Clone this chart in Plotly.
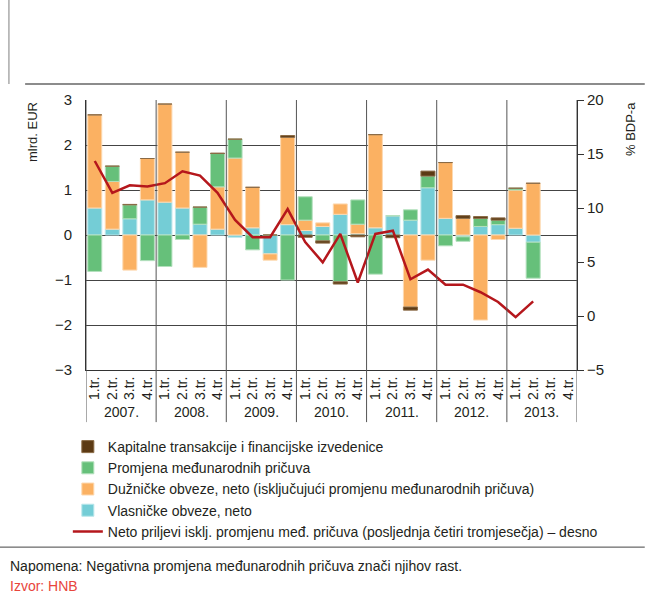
import plotly.graph_objects as go

# kvartali 2007-2013
godine = ['2007.', '2008.', '2009.', '2010.', '2011.', '2012.', '2013.']
kvartali = ['1.tr.', '2.tr.', '3.tr.', '4.tr.']

# mlrd. EUR
vlasnicke = [0.60, 0.13, 0.36, 0.78, 0.73, 0.60, 0.24, 0.13,
             -0.05, 0.16, -0.42, 0.23, 0.10, 0.19, 0.46, 0.03,
             0.16, 0.43, 0.33, 1.05, 0.37, -0.04, 0.19, 0.23,
             0.15, -0.16, None, None]
duznicke = [2.07, 1.06, -0.78, 0.92, 2.18, 1.24, -0.72, 0.94,
            1.71, 0.90, -0.14, 1.94, 0.23, 0.08, 0.23, 0.21,
            2.07, 0.0, -1.60, -0.56, 1.24, 0.37, -1.89, -0.10,
            0.85, 1.15, None, None]
pricuve = [-0.81, 0.34, 0.31, -0.57, -0.70, -0.10, 0.38, 0.74,
           0.42, -0.33, 0.0, -1.00, 0.52, -0.13, -1.04, 0.54,
           -0.87, 0.0, 0.23, 0.26, -0.24, -0.10, 0.18, 0.10,
           0.04, -0.80, None, None]
kapitalne = [0.0, 0.0, 0.01, 0.0, 0.0, 0.0, 0.0, 0.01,
             0.0, 0.0, 0.0, 0.04, -0.05, -0.05, -0.05, -0.04,
             0.0, -0.06, -0.07, 0.11, 0.0, 0.06, 0.04, 0.05,
             0.0, 0.0, None, None]
# % BDP-a, desna os
neto_priljevi = [14.35, 11.4, 12.1, 12.0, 12.3, 13.4, 13.0, 11.4,
                 8.9, 7.3, 7.3, 9.9, 6.85, 4.97, 7.6, 3.1,
                 7.6, 7.9, 3.4, 4.3, 2.9, 2.9, 2.2, 1.3,
                 -0.1, 1.35, None, None]

x = list(range(len(godine) * 4))
ticktext = kvartali * len(godine)

FONT = 'Liberation Sans Narrow, Arial Narrow, Liberation Sans, sans-serif'
TXT = '#231f20'

fig = go.Figure()

# redoslijed slaganja: vlasnicke, duznicke, pricuve, kapitalne
serije = [
    ('Vlasničke obveze, neto', vlasnicke, '#74cdd6', '#b9e6ea', 4),
    ('Dužničke obveze, neto (isključujući promjenu međunarodnih pričuva)', duznicke, '#fbb162', '#fdd9b1', 3),
    ('Promjena međunarodnih pričuva', pricuve, '#66c07a', '#b3e0bd', 2),
    ('Kapitalne transakcije i financijske izvedenice', kapitalne, '#5c3a14', '#8a6a45', 1),
]
for name, vals, col, edge, rank in serije:
    fig.add_trace(go.Bar(x=x, y=vals, name=name, marker_color=col,
                         marker_line=dict(color=edge, width=1), legendrank=rank))

fig.add_trace(go.Scatter(x=x, y=neto_priljevi, yaxis='y2', mode='lines',
                         name='Neto priljevi isklj. promjenu međ. pričuva (posljednja četiri tromjesečja) – desno',
                         line=dict(color='#b5171c', width=2.5), legendrank=5))

# okomite linije izmedju godina (i u podrucju oznaka)
for k in range(len(godine) + 1):
    fig.add_shape(type='line', xref='x', yref='paper', x0=k * 4 - 0.5, x1=k * 4 - 0.5,
                  y0=-0.193, y1=1, line=dict(color='#555', width=1), layer='above')
for k, g in enumerate(godine):
    fig.add_annotation(x=k * 4 + 1.5, y=-0.155, xref='x', yref='paper', text=g,
                       showarrow=False, font=dict(size=14, color=TXT), yanchor='middle')

# okvir stranice
fig.add_shape(type='line', xref='paper', yref='paper', x0=-0.124, x1=1.138, y0=1.059, y1=1.059,
              line=dict(color='#666', width=1.5))
fig.add_shape(type='line', xref='paper', yref='paper', x0=-0.157, x1=-0.157, y0=1.059, y1=1.4,
              line=dict(color='#aaa', width=1.5))
fig.add_shape(type='line', xref='paper', yref='paper', x0=-0.18, x1=1.138, y0=-0.656, y1=-0.656,
              line=dict(color='#444', width=1))

fig.add_annotation(x=-0.11, y=1, xref='paper', yref='paper', text='mlrd. EUR', textangle=-90,
                   showarrow=False, xanchor='center', yanchor='top', font=dict(size=13, color=TXT))
fig.add_annotation(x=1.108, y=1, xref='paper', yref='paper', text='% BDP-a', textangle=-90,
                   showarrow=False, xanchor='center', yanchor='top', font=dict(size=13, color=TXT))
fig.add_annotation(x=-0.159, y=-0.726, xref='paper', yref='paper',
                   text='Napomena: Negativna promjena međunarodnih pričuva znači njihov rast.',
                   showarrow=False, xanchor='left', yanchor='middle',
                   font=dict(family='Liberation Sans, Arial, sans-serif', size=14, color=TXT))
fig.add_annotation(x=-0.159, y=-0.80, xref='paper', yref='paper', text='Izvor: HNB',
                   showarrow=False, xanchor='left', yanchor='middle',
                   font=dict(family='Liberation Sans, Arial, sans-serif', size=14, color='#e8453c'))

fig.update_layout(
    width=648, height=598,
    margin=dict(l=86, r=71, t=100, b=228, autoexpand=False),
    paper_bgcolor='white', plot_bgcolor='white',
    font=dict(family=FONT, size=14, color=TXT),
    barmode='relative', bargap=0.2,
    showlegend=True,
    legend=dict(x=-0.037, y=-0.226, xanchor='left', yanchor='top', orientation='v',
                font=dict(size=14), bgcolor='rgba(0,0,0,0)', tracegroupgap=0),
    xaxis=dict(range=[-0.5, 27.5], tickvals=x, ticktext=ticktext, tickangle=-90,
               showgrid=False, zeroline=False, showline=True, linecolor='#333', linewidth=1,
               ticks='', tickfont=dict(size=14), automargin=False),
    yaxis=dict(range=[-3, 3], dtick=1, showgrid=True, gridcolor='#444', gridwidth=1,
               zeroline=False, showline=True, linecolor='#333', linewidth=1, mirror=True,
               ticks='', ticklabelstandoff=10, tickfont=dict(size=15), automargin=False),
    yaxis2=dict(range=[-5, 20], dtick=5, overlaying='y', side='right', showgrid=False,
                zeroline=False, showline=True, linecolor='#333', linewidth=1,
                ticks='outside', ticklen=6, tickcolor='#333', tickfont=dict(size=15),
                automargin=False),
)

# bez zadane margine stranice i bez alatne trake
fig.write_html('out.html', config={'displayModeBar': False},
               post_script="document.body.style.margin='0';")
